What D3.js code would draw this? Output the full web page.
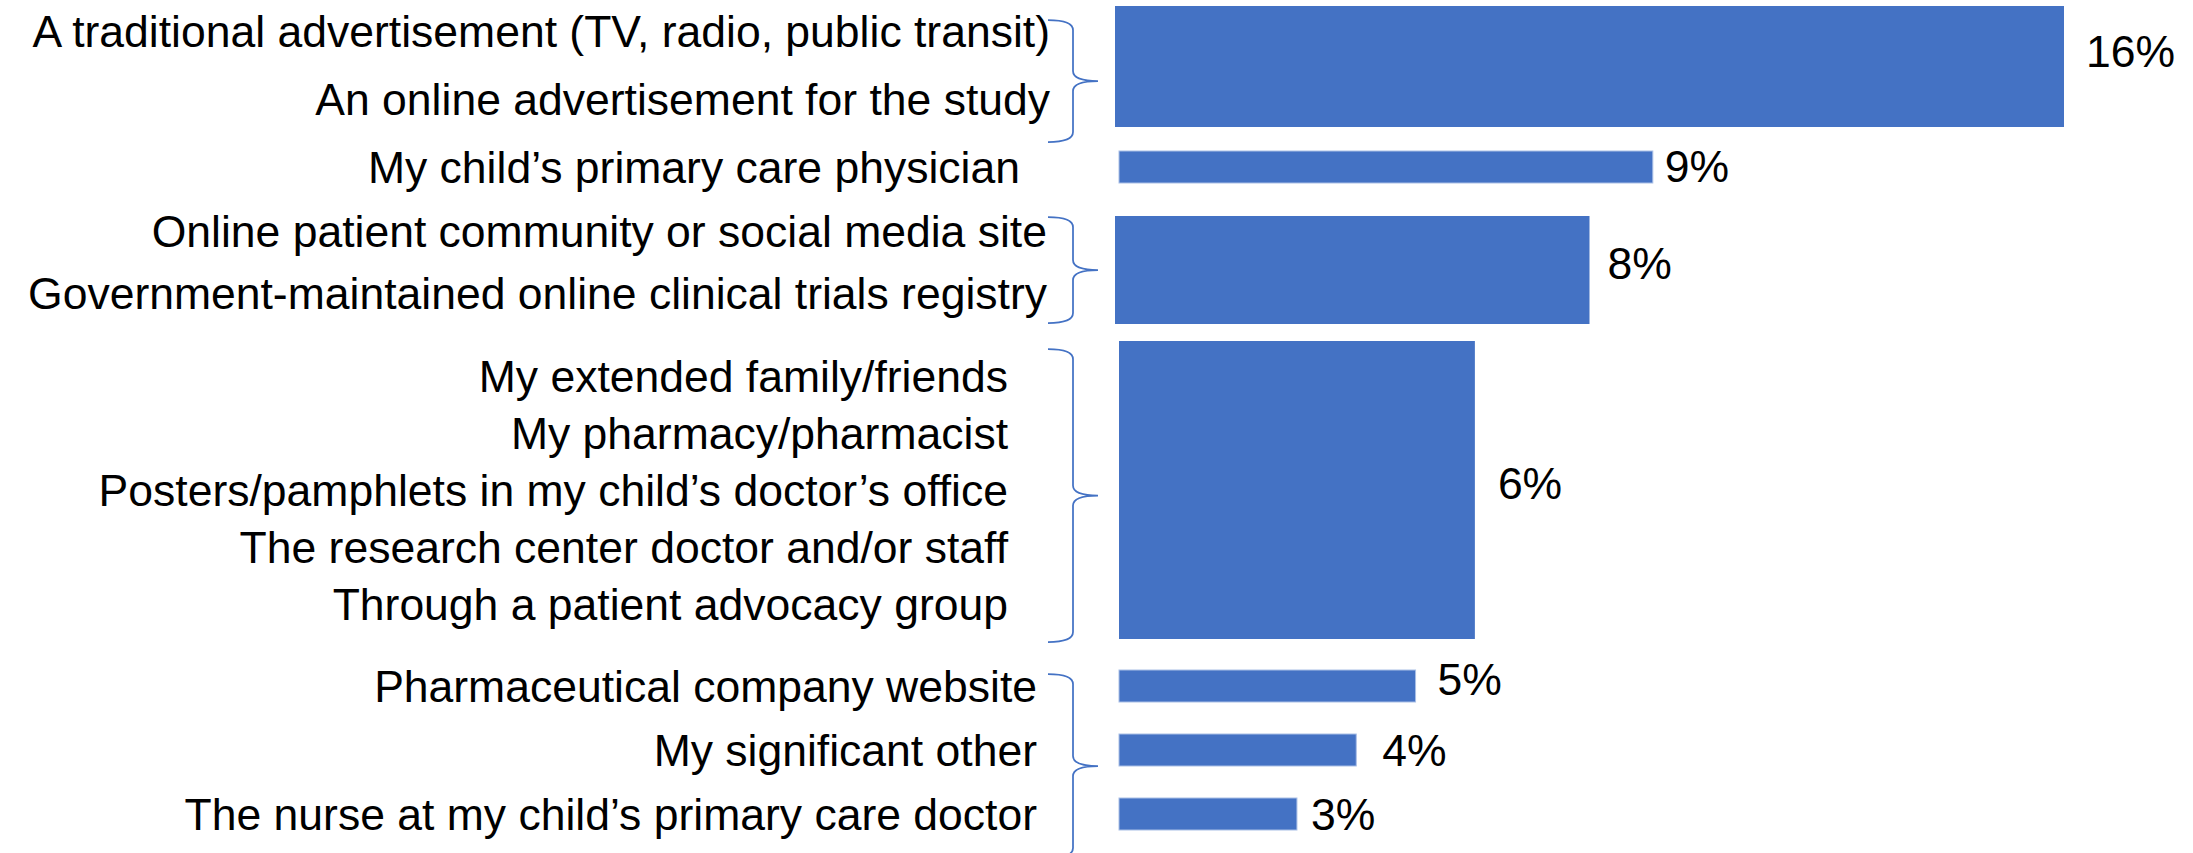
<!DOCTYPE html>
<html>
<head>
<meta charset="utf-8">
<script src="https://cdn.jsdelivr.net/npm/d3@7"></script>
<style>
  html, body { margin: 0; padding: 0; background: #ffffff; }
  svg { display: block; }
  text { font-family: "Liberation Sans", Arial, sans-serif; fill: #000000; }
</style>
</head>
<body>
<svg id="chart" width="2193" height="853"></svg>
<script>
// ---------------- data ----------------
const categories = [
  "A traditional advertisement (TV, radio, public transit)",
  "An online advertisement for the study",
  "My child\u2019s primary care physician",
  "Online patient community or social media site",
  "Government-maintained online clinical trials registry",
  "My extended family/friends",
  "My pharmacy/pharmacist",
  "Posters/pamphlets in my child\u2019s doctor\u2019s office",
  "The research center doctor and/or staff",
  "Through a patient advocacy group",
  "Pharmaceutical company website",
  "My significant other",
  "The nurse at my child\u2019s primary care doctor"
];
// which bar each category belongs to
const barOfCategory = [0, 0, 1, 2, 2, 3, 3, 3, 3, 3, 4, 5, 6];
// bar values (percent)
const values = [16, 9, 8, 6, 5, 4, 3];
// curly brackets: [first category, last category]
const bracketRanges = [[0, 1], [3, 4], [5, 9], [10, 12]];

// ---------------- layout ----------------
const fontSize = 44.5;
const blue = "#4472C4";
const labelRight = [1050, 1020, 1047, 1008, 1037, 1037, 1037];
const valueGap = [22, 12, 18, 23, 22, 26, 14];
const valueDy = [0, 15, 9, 9, 9, 16, 16];
const barInset = [-2, 2, -2, 2, 2, 2, 2];
const barTopPad = [41, 0, 31, 51, 0, 0, 0];
const barBottomPad = [12, 0, 15, 19, 0, 0, 0];
const bracketTopPad = [27, 30, 43, 28];
const bracketBottomPad = [27, 14, 22, 28];
const thinBar = 32;

const svg = d3.select("#chart");

// x scale: value -> pixel
const x = d3.scaleLinear().domain([0, 16]).range([1117, 1117 + 949]);
// row scale: category row index -> text baseline
const y = d3.scaleLinear()
  .domain([0, 2, 3, 4, 5, 9, 10, 12])
  .range([47, 183, 247, 309, 392, 620, 702, 830]);

// bars built from categories
const bars = values.map((v, i) => {
  const rows = barOfCategory.map((b, k) => b === i ? k : -1).filter(k => k >= 0);
  const first = d3.min(rows), last = d3.max(rows);
  let top, bottom;
  if (rows.length > 1) {
    top = y(first) - barTopPad[i];
    bottom = y(last) + barBottomPad[i];
  } else {
    bottom = y(first);
    top = bottom - thinBar;
  }
  return { i, v, rows, top, bottom, multi: rows.length > 1 };
});

// bars
svg.append("g").selectAll("rect")
  .data(bars)
  .join("rect")
  .attr("x", d => x(0) + barInset[d.i])
  .attr("y", d => d.top)
  .attr("width", d => x(d.v) - x(0))
  .attr("height", d => d.bottom - d.top)
  .attr("fill", blue)
  .attr("stroke", d => d.multi ? "none" : "#a9bfe6")
  .attr("stroke-width", 1);

// value labels
const fmt = d => d + "%";
svg.append("g").selectAll("text")
  .data(bars)
  .join("text")
  .attr("x", d => x(d.v) + barInset[d.i] + valueGap[d.i])
  .attr("y", d => (d.top + d.bottom) / 2 + valueDy[d.i])
  .attr("font-size", fontSize)
  .attr("text-anchor", "start")
  .text(d => fmt(d.v));

// category labels
svg.append("g").selectAll("text")
  .data(categories)
  .join("text")
  .attr("x", (d, k) => labelRight[barOfCategory[k]])
  .attr("y", (d, k) => y(k))
  .attr("font-size", fontSize)
  .attr("text-anchor", "end")
  .text(d => d);

// curly brackets
const left = 1048, spine = 1073, tip = 1098, r = 10;
function bracePath(top, bottom) {
  const mid = (top + bottom) / 2;
  return [
    `M${left},${top}`,
    `Q${spine},${top} ${spine},${top + r}`,
    `L${spine},${mid - r}`,
    `Q${spine},${mid} ${tip},${mid}`,
    `Q${spine},${mid} ${spine},${mid + r}`,
    `L${spine},${bottom - r}`,
    `Q${spine},${bottom} ${left},${bottom}`
  ].join(" ");
}
svg.append("g").selectAll("path")
  .data(bracketRanges)
  .join("path")
  .attr("d", (d, j) => bracePath(y(d[0]) - bracketTopPad[j], y(d[1]) + bracketBottomPad[j]))
  .attr("fill", "none")
  .attr("stroke", blue)
  .attr("stroke-width", 1.75);
</script>
</body>
</html>
